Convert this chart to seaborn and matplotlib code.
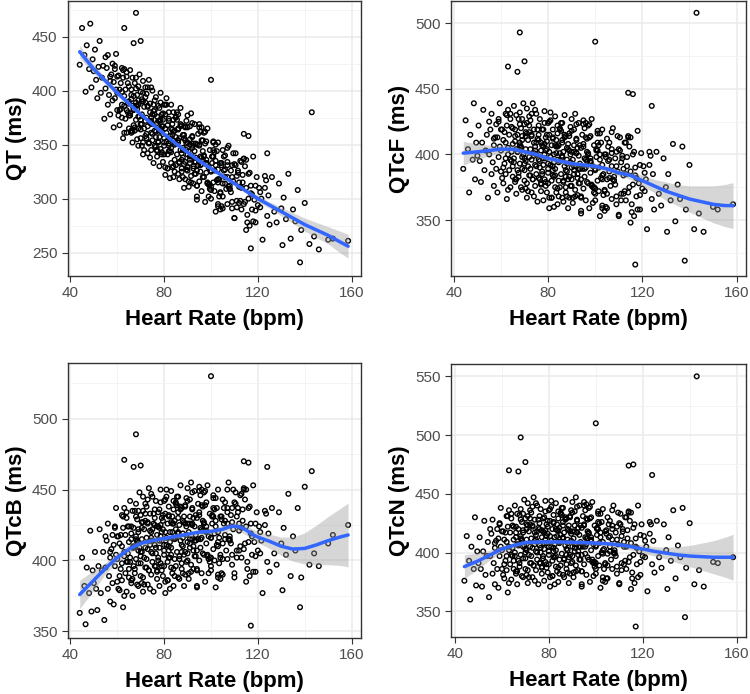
import matplotlib
matplotlib.use("Agg")
import matplotlib.pyplot as plt
import seaborn as sns
import pandas as pd
from matplotlib.ticker import MultipleLocator, FixedLocator

sns.set_theme(style="white")
plt.rcParams['font.family'] = ['Liberation Sans', 'DejaVu Sans']

# ---------------- scatter data (heart rate shared by all four panels) -------
hr = [
    44, 45, 46, 46.5, 47, 48, 48.5, 49, 49.5, 50,
    50.5, 51, 51.5, 52, 52.5, 53, 53.5, 54, 54.5, 55,
    55, 55.5, 56, 56, 56.5, 57, 57, 57.5, 58, 58,
    58.5, 58.5, 59, 59, 59.5, 59.5, 60, 60, 60.5, 60.5,
    61, 61, 61.5, 61.5, 62, 62, 62, 62.5, 62.5, 63,
    63, 63, 63.5, 63.5, 64, 64, 64, 64.5, 64.5, 65,
    65, 65, 65.5, 65.5, 66, 66, 66, 66.5, 66.5, 66.5,
    67, 67, 67, 67.5, 67.5, 68, 68, 68, 68.5, 68.5,
    68.5, 69, 69, 69, 69.5, 69.5, 70, 70, 70, 70.5,
    70.5, 70.5, 71, 71, 71, 71.5, 71.5, 72, 72, 72,
    72.5, 72.5, 72.5, 73, 73, 73, 73.5, 73.5, 74, 74,
    74, 74.5, 74.5, 74.5, 75, 75, 75, 75.5, 75.5, 76,
    76, 76, 76.5, 76.5, 76.5, 77, 77, 77, 77.5, 77.5,
    77.5, 78, 78, 78, 78.5, 78.5, 78.5, 79, 79, 79,
    79.5, 79.5, 79.5, 80, 80, 80, 80.5, 80.5, 80.5, 81,
    81, 81, 81.5, 81.5, 81.5, 82, 82, 82, 82.5, 82.5,
    82.5, 83, 83, 83, 83.5, 83.5, 83.5, 84, 84, 84,
    84.5, 84.5, 84.5, 85, 85, 85, 85.5, 85.5, 86, 86,
    86, 86.5, 86.5, 86.5, 87, 87, 87.5, 87.5, 87.5, 88,
    88, 88, 88.5, 88.5, 89, 89, 89, 89.5, 89.5, 90,
    90, 90, 90.5, 90.5, 91, 91, 91.5, 91.5, 92, 92,
    92, 92.5, 92.5, 93, 93, 93.5, 93.5, 94, 94, 94.5,
    94.5, 95, 95, 95.5, 95.5, 96, 96, 96.5, 96.5, 97,
    97, 97.5, 97.5, 98, 98, 98.5, 99, 99, 99.5, 100,
    100, 100.5, 100.5, 101, 101, 101.5, 102, 102, 102.5, 103,
    103, 103.5, 104, 104, 104.5, 105, 105, 105.5, 106, 106.5,
    107, 107, 107.5, 108, 108.5, 109, 109, 109.5, 110, 110.5,
    111, 111.5, 112, 112.5, 113, 113.5, 114, 114.5, 115, 115.5,
    116, 116.5, 117, 117.5, 118, 118.5, 119, 119.5, 120, 120.5,
    121, 121.5, 122, 123, 123.5, 124, 124.5, 125, 126, 127,
    128, 129, 130, 130.5, 131, 132, 133, 134, 135, 136,
    137, 138, 138.5, 140, 142, 144, 146, 150, 152, 158.5,
    143, 100, 68, 117, 70, 63, 67, 114, 116, 124,
    66, 67.5, 69, 70, 71.5, 73, 74, 75.5, 77, 78,
    79, 80.5, 82, 83, 84.5, 86, 87, 88.5, 90, 91,
    92.5, 94, 95.5, 97, 98.5, 100, 101.5, 103, 104.5, 106,
    65.5, 68, 70.5, 72, 74.5, 76, 78.5, 80, 82.5, 84,
    85.5, 87.5, 89.5, 91.5, 93.5, 95.5, 97.5, 99.5, 101.5, 103.5,
    69, 71, 73.5, 75, 77.5, 79.5, 81.5, 83.5, 85, 86.5,
    60, 62, 64, 66, 68, 70, 72, 74, 76, 78,
    80, 82, 84, 86, 88, 90, 92, 94, 96, 98,
    88.5, 90.5, 92, 93.5, 95, 96.5, 98, 99.5, 101, 102.5,
    104, 105.5, 107, 108.5, 110, 111.5, 113, 114.5, 116, 118,
    89, 91, 93, 95, 97, 99, 101, 103, 105, 107,
    108, 109.5, 111, 112, 113.5, 115, 116.5, 119, 121, 123,
    86, 87.5, 89.5, 91, 92.5, 94, 96, 98, 100, 102,
    103, 104.5, 106, 107.5, 109, 110.5, 112, 114, 115.5, 117.5,
    57, 59, 61, 63, 65, 67, 69, 71, 73, 75,
    77, 79, 81, 83, 85, 87, 89, 91, 93, 95,
    96.5, 98.5, 100.5, 102, 104, 106, 108, 110, 112.5, 115,
    62.5, 64.5, 66.5, 68.5, 70.5, 72.5, 74.5, 76.5, 78.5, 80.5,
    82, 84, 86, 88, 90, 92, 94, 96, 98, 100,
    101, 103, 105, 107, 109, 111, 113, 114, 117, 119,
]

qt = [
    424, 458, 433, 399, 442, 420, 462, 403, 429, 418,
    438, 410, 393, 422, 446, 398, 412, 423, 374, 431,
    402, 421, 387, 433, 396, 409, 378, 415, 425, 391,
    408, 366, 420, 393, 401, 434, 382, 398, 414, 377,
    368, 401, 407, 383, 421, 375, 399, 356, 412, 395,
    420, 386, 374, 401, 361, 413, 382, 407, 388, 377,
    390, 365, 419, 379, 396, 361, 401, 386, 352, 412,
    368, 395, 382, 407, 363, 389, 412, 373, 386, 355,
    396, 349, 387, 365, 415, 376, 356, 399, 373, 390,
    369, 378, 341, 390, 398, 365, 385, 358, 403, 372,
    360, 397, 375, 342, 386, 367, 410, 352, 380, 370,
    388, 361, 345, 375, 400, 354, 369, 381, 333, 391,
    363, 382, 348, 394, 357, 370, 339, 376, 386, 352,
    372, 330, 384, 357, 365, 398, 346, 362, 378, 341,
    334, 367, 373, 349, 387, 341, 365, 322, 378, 361,
    387, 353, 341, 368, 328, 380, 349, 374, 355, 344,
    358, 333, 387, 347, 364, 329, 369, 354, 320, 380,
    336, 363, 350, 375, 331, 357, 380, 341, 354, 323,
    365, 318, 356, 334, 384, 345, 325, 368, 342, 359,
    338, 347, 310, 359, 367, 334, 354, 327, 372, 341,
    329, 366, 344, 311, 355, 336, 379, 321, 349, 339,
    357, 330, 314, 344, 369, 323, 338, 350, 302, 360,
    331, 350, 316, 362, 325, 338, 307, 344, 354, 320,
    339, 297, 351, 324, 332, 365, 313, 329, 345, 308,
    300, 333, 339, 315, 353, 307, 331, 288, 344, 327,
    352, 318, 306, 333, 293, 345, 314, 339, 320, 309,
    320, 295, 349, 309, 326, 291, 331, 316, 282, 342,
    298, 324, 311, 335, 290, 315, 337, 297, 310, 278,
    323, 275, 312, 290, 339, 299, 278, 320, 294, 310,
    292, 300, 262, 310, 317, 284, 303, 276, 320, 288,
    278, 314, 291, 257, 301, 281, 323, 263, 290, 279,
    308, 241, 271, 296, 258, 265, 253, 262, 263, 261,
    380, 410, 472, 254, 446, 458, 444, 360, 358, 342,
    392, 366, 404, 369, 345, 385, 372, 387, 344, 372,
    343, 387, 351, 365, 325, 352, 369, 332, 377, 333,
    351, 312, 339, 361, 315, 326, 343, 293, 331, 314,
    377, 402, 349, 389, 372, 349, 389, 356, 319, 362,
    373, 336, 351, 315, 351, 331, 362, 313, 326, 302,
    376, 409, 351, 378, 353, 379, 328, 359, 376, 333,
    413, 387, 417, 363, 386, 364, 394, 338, 378, 363,
    352, 372, 330, 378, 345, 326, 347, 299, 354, 333,
    356, 316, 358, 334, 366, 320, 333, 309, 352, 317,
    305, 326, 347, 306, 282, 326, 310, 330, 300, 279,
    366, 339, 323, 369, 340, 302, 339, 315, 302, 334,
    312, 342, 292, 315, 322, 271, 324, 289, 306, 321,
    364, 328, 345, 367, 328, 312, 366, 336, 325, 335,
    295, 333, 340, 311, 320, 331, 296, 337, 285, 304,
    413, 423, 382, 361, 404, 383, 391, 352, 403, 360,
    345, 367, 393, 343, 351, 367, 318, 350, 334, 349,
    336, 314, 339, 350, 290, 327, 309, 332, 298, 336,
    419, 380, 362, 383, 392, 356, 403, 362, 373, 329,
    344, 373, 354, 320, 352, 370, 326, 332, 353, 311,
    345, 318, 291, 331, 297, 321, 334, 295, 305, 312,
]

qtcf = [
    389, 426, 404, 371, 415, 396, 439, 381, 409, 399,
    422, 395, 379, 409, 434, 388, 403, 415, 367, 425,
    400, 419, 385, 431, 394, 407, 376, 413, 423, 389,
    413, 371, 425, 398, 406, 439, 387, 403, 419, 382,
    378, 411, 417, 393, 431, 385, 409, 366, 422, 405,
    434, 400, 388, 415, 375, 427, 396, 421, 402, 391,
    408, 383, 437, 397, 414, 379, 419, 404, 370, 430,
    388, 415, 402, 427, 383, 409, 432, 393, 406, 375,
    420, 373, 411, 389, 439, 400, 380, 423, 397, 414,
    395, 404, 367, 416, 424, 391, 411, 384, 429, 398,
    389, 426, 404, 371, 415, 396, 439, 381, 409, 399,
    419, 392, 376, 406, 431, 385, 400, 412, 364, 422,
    396, 415, 381, 427, 390, 403, 372, 409, 419, 385,
    407, 365, 419, 392, 400, 433, 381, 397, 413, 376,
    371, 404, 410, 386, 424, 378, 402, 359, 415, 398,
    426, 392, 380, 407, 367, 419, 388, 413, 394, 383,
    400, 375, 429, 389, 406, 371, 411, 396, 362, 422,
    380, 407, 394, 419, 375, 401, 424, 385, 398, 367,
    411, 364, 402, 380, 430, 391, 371, 414, 388, 405,
    387, 396, 359, 408, 416, 383, 403, 376, 421, 390,
    381, 418, 396, 363, 407, 388, 431, 373, 401, 391,
    412, 385, 369, 399, 424, 378, 393, 405, 357, 415,
    389, 408, 374, 420, 383, 396, 365, 402, 412, 378,
    401, 359, 413, 386, 394, 427, 375, 391, 407, 370,
    365, 398, 404, 380, 418, 372, 396, 353, 409, 392,
    419, 385, 373, 400, 360, 412, 381, 406, 387, 376,
    391, 366, 420, 380, 397, 362, 402, 387, 353, 413,
    370, 397, 384, 409, 365, 391, 414, 375, 387, 356,
    400, 353, 390, 368, 418, 378, 358, 401, 374, 391,
    372, 381, 343, 392, 399, 366, 385, 358, 402, 370,
    361, 397, 375, 341, 385, 365, 408, 349, 377, 366,
    406, 319, 358, 392, 343, 355, 341, 360, 358, 362,
    508, 486, 493, 316, 471, 467, 463, 447, 446, 437,
    410, 386, 427, 393, 372, 414, 401, 419, 377, 406,
    379, 425, 391, 407, 368, 398, 415, 381, 427, 385,
    405, 368, 397, 422, 377, 389, 407, 359, 398, 382,
    394, 423, 374, 417, 403, 382, 424, 393, 360, 406,
    418, 383, 400, 368, 407, 389, 423, 375, 390, 369,
    398, 435, 381, 409, 387, 415, 367, 401, 420, 379,
    419, 397, 431, 381, 407, 388, 422, 368, 411, 397,
    389, 412, 374, 424, 393, 376, 401, 355, 413, 395,
    404, 367, 411, 389, 423, 379, 394, 371, 416, 382,
    372, 395, 417, 377, 354, 399, 385, 406, 377, 358,
    414, 391, 378, 426, 400, 363, 403, 381, 370, 404,
    383, 414, 365, 389, 398, 348, 402, 369, 386, 402,
    409, 375, 394, 419, 382, 367, 424, 397, 388, 400,
    361, 400, 409, 381, 391, 403, 370, 413, 362, 382,
    412, 427, 390, 373, 420, 402, 414, 378, 431, 391,
    378, 403, 432, 384, 395, 413, 367, 402, 389, 406,
    395, 376, 403, 416, 357, 396, 380, 404, 372, 413,
    430, 395, 381, 405, 417, 384, 434, 395, 408, 367,
    384, 416, 399, 368, 402, 423, 381, 390, 414, 374,
    409, 384, 359, 401, 368, 394, 409, 371, 384, 392,
]

qtcb = [
    363, 402, 382, 355, 395, 377, 421, 364, 393, 384,
    406, 380, 365, 396, 422, 377, 393, 406, 358, 417,
    395, 414, 380, 426, 389, 402, 371, 408, 418, 384,
    411, 369, 423, 396, 404, 437, 385, 401, 417, 380,
    379, 412, 418, 394, 432, 386, 410, 367, 423, 406,
    437, 403, 391, 418, 378, 430, 399, 424, 405, 394,
    413, 388, 442, 402, 419, 384, 424, 409, 375, 435,
    396, 423, 410, 435, 391, 417, 440, 401, 414, 383,
    429, 382, 420, 398, 448, 409, 389, 432, 406, 423,
    406, 415, 378, 427, 435, 402, 422, 395, 440, 409,
    401, 438, 416, 383, 427, 408, 451, 393, 421, 411,
    433, 406, 390, 420, 445, 399, 414, 426, 378, 436,
    411, 430, 396, 442, 405, 418, 387, 424, 434, 400,
    424, 382, 436, 409, 417, 450, 398, 414, 430, 393,
    389, 422, 428, 404, 442, 396, 420, 377, 433, 416,
    445, 411, 399, 426, 386, 438, 407, 432, 413, 402,
    420, 395, 449, 409, 426, 391, 431, 416, 382, 442,
    401, 428, 415, 440, 396, 422, 445, 406, 419, 388,
    434, 387, 425, 403, 453, 414, 394, 437, 411, 428,
    410, 419, 382, 431, 439, 406, 426, 399, 444, 413,
    405, 442, 420, 387, 431, 412, 455, 397, 425, 415,
    437, 410, 394, 424, 449, 403, 418, 430, 382, 440,
    415, 434, 400, 446, 409, 422, 391, 428, 438, 404,
    427, 385, 439, 412, 420, 453, 401, 417, 433, 396,
    393, 426, 432, 408, 446, 400, 424, 381, 437, 420,
    450, 416, 404, 431, 391, 443, 412, 437, 418, 407,
    426, 401, 455, 415, 432, 397, 437, 422, 388, 448,
    407, 434, 421, 446, 402, 428, 451, 412, 424, 394,
    437, 389, 426, 404, 453, 413, 392, 434, 407, 424,
    405, 414, 377, 425, 433, 399, 419, 392, 437, 405,
    397, 434, 412, 379, 423, 404, 447, 389, 417, 407,
    437, 367, 388, 452, 397, 405, 396, 412, 418, 425,
    463, 530, 489, 354, 467, 471, 466, 470, 469, 466,
    415, 394, 435, 403, 383, 426, 414, 433, 392, 423,
    396, 443, 410, 427, 389, 419, 438, 404, 451, 409,
    430, 394, 423, 448, 404, 416, 436, 388, 429, 415,
    399, 431, 384, 428, 416, 396, 441, 411, 380, 426,
    439, 406, 424, 392, 432, 415, 449, 402, 419, 398,
    407, 445, 393, 422, 402, 432, 386, 420, 441, 401,
    417, 398, 434, 386, 415, 398, 433, 380, 425, 414,
    407, 431, 394, 445, 416, 400, 426, 381, 439, 421,
    427, 391, 436, 414, 449, 405, 421, 399, 444, 411,
    402, 426, 450, 412, 391, 437, 423, 443, 413, 392,
    438, 415, 403, 452, 426, 391, 431, 410, 401, 437,
    417, 450, 402, 426, 436, 385, 438, 403, 420, 435,
    430, 398, 418, 443, 407, 393, 450, 424, 416, 428,
    390, 431, 441, 415, 427, 440, 407, 450, 399, 417,
    406, 424, 389, 375, 424, 409, 422, 388, 443, 405,
    393, 420, 450, 404, 416, 436, 390, 426, 414, 432,
    421, 403, 431, 444, 387, 428, 414, 441, 410, 450,
    431, 399, 387, 413, 427, 395, 447, 409, 425, 385,
    402, 436, 420, 391, 426, 448, 407, 416, 441, 402,
    437, 413, 390, 434, 404, 431, 447, 408, 419, 426,
]

qtcn = [
    376, 414, 393, 360, 405, 386, 430, 372, 401, 391,
    413, 386, 371, 401, 427, 381, 397, 409, 362, 420,
    397, 416, 382, 428, 391, 404, 373, 410, 420, 386,
    412, 370, 424, 397, 405, 438, 386, 402, 418, 381,
    378, 411, 417, 393, 431, 385, 409, 366, 422, 405,
    436, 402, 390, 417, 377, 429, 398, 423, 404, 393,
    411, 386, 440, 400, 417, 382, 422, 407, 373, 433,
    393, 420, 407, 432, 388, 414, 437, 398, 411, 380,
    426, 379, 417, 395, 445, 406, 386, 429, 403, 420,
    402, 411, 374, 423, 431, 398, 418, 391, 436, 405,
    397, 434, 412, 379, 423, 404, 447, 389, 417, 407,
    428, 401, 385, 415, 440, 394, 409, 421, 373, 431,
    406, 425, 391, 437, 400, 413, 382, 419, 429, 395,
    418, 376, 430, 403, 411, 444, 392, 408, 424, 387,
    383, 416, 422, 398, 436, 390, 414, 371, 427, 410,
    439, 405, 393, 420, 380, 432, 401, 426, 407, 396,
    413, 388, 442, 402, 419, 384, 424, 409, 375, 435,
    394, 421, 408, 433, 389, 415, 438, 399, 412, 381,
    426, 379, 417, 395, 445, 406, 386, 429, 403, 420,
    402, 411, 374, 423, 431, 398, 418, 391, 436, 405,
    397, 434, 412, 379, 423, 404, 447, 389, 417, 407,
    428, 401, 385, 415, 440, 394, 409, 421, 373, 431,
    405, 424, 390, 436, 399, 412, 381, 418, 428, 394,
    417, 375, 429, 402, 410, 443, 391, 407, 423, 386,
    382, 415, 421, 397, 435, 389, 413, 370, 426, 409,
    437, 403, 391, 418, 378, 430, 399, 424, 405, 394,
    411, 386, 440, 400, 417, 382, 422, 407, 373, 433,
    391, 418, 405, 430, 386, 412, 435, 396, 408, 378,
    421, 374, 412, 390, 440, 401, 381, 424, 397, 414,
    396, 405, 367, 416, 424, 390, 410, 383, 427, 396,
    387, 424, 402, 369, 413, 393, 436, 378, 406, 396,
    438, 345, 387, 425, 373, 385, 371, 392, 391, 396,
    550, 510, 498, 337, 477, 470, 469, 474, 475, 466,
    413, 391, 433, 400, 379, 422, 410, 428, 387, 417,
    390, 437, 404, 420, 382, 412, 430, 396, 443, 401,
    421, 384, 413, 438, 394, 406, 425, 376, 416, 401,
    397, 428, 381, 424, 411, 391, 435, 405, 373, 419,
    432, 398, 416, 384, 423, 405, 439, 392, 408, 386,
    405, 442, 389, 418, 397, 427, 380, 414, 434, 394,
    418, 397, 433, 384, 412, 395, 429, 376, 420, 408,
    401, 425, 387, 438, 408, 392, 417, 371, 429, 411,
    419, 383, 427, 405, 440, 396, 410, 388, 433, 400,
    390, 413, 436, 397, 374, 420, 405, 427, 398, 379,
    430, 407, 394, 443, 416, 380, 420, 399, 389, 423,
    402, 434, 385, 409, 419, 369, 424, 392, 410, 426,
    423, 390, 410, 435, 398, 384, 441, 413, 405, 417,
    379, 419, 427, 400, 411, 424, 390, 434, 383, 404,
    408, 425, 390, 374, 422, 406, 419, 385, 439, 400,
    388, 414, 444, 397, 409, 428, 382, 418, 405, 423,
    412, 392, 420, 433, 375, 414, 399, 425, 393, 434,
    431, 397, 384, 410, 424, 391, 442, 404, 419, 379,
    396, 429, 413, 383, 418, 439, 398, 407, 430, 391,
    426, 402, 378, 420, 388, 414, 430, 392, 405, 415,
]

# ---------------- loess fits ------------------------------------------------
fit_hr = [44, 50, 55, 60, 65, 70, 75, 80, 85, 90, 95, 100, 105, 107.5, 110,
          112.5, 115, 117.5, 120, 122.5, 125, 130, 135, 140, 145, 150, 155, 158.5]
qt_fit = [436, 420, 409, 398, 388, 378, 369, 360, 351, 343, 335, 328, 321, 317.5,
          314, 310.5, 307, 303.5, 300, 297, 294, 288, 282, 276, 271, 266, 260, 256]
qt_hw = [6, 4, 3, 3, 2, 2, 2, 2, 2, 2, 2, 2, 2, 2, 2, 2, 2, 2.5, 3, 3, 3, 4, 5,
         6, 7, 8, 10, 11]
qtcf_fit = [401, 402, 403, 404, 404, 402, 400, 397, 395, 393, 392, 391, 389, 387.5,
            386, 385, 384, 382, 380, 378, 376, 372, 369, 366, 364, 362, 361, 361]
qtcf_hw = [9, 6, 4, 3, 2.5, 2, 2, 2, 2, 2, 2, 2, 2, 2.2, 2.5, 2.7, 3, 3.5, 4,
           4.5, 5, 7, 8, 10, 12, 14, 16, 17.5]
qtcb_fit = [376, 386, 394.5, 402, 408, 412, 414, 415.5, 417, 418.5, 420, 420.5,
            422, 423.5, 424.3, 423.5, 421.5, 418.5, 416.5, 415, 413.5, 410, 408,
            408.5, 411, 414, 416.5, 418]
qtcb_hw = [10, 7, 4, 3.5, 3, 2.5, 2.5, 2, 2, 2, 2, 2, 2.5, 2.7, 3, 3.2, 3.5, 3.8,
           4, 4.5, 5, 6.5, 8.5, 11, 14, 17, 20, 22.5]
qtcn_fit = [388, 393, 398, 403, 406, 408.5, 409, 409, 409, 408.7, 408.5, 408,
            407.5, 407, 406.5, 405.8, 405, 404, 403, 402, 401, 399.5, 398, 397,
            396.5, 396, 396, 396]
qtcn_hw = [10, 7, 4, 3, 2.5, 2, 2, 2, 2, 2, 2, 2, 2, 2.2, 2.5, 2.7, 3, 3.2, 3.5,
           3.8, 4, 5, 7, 9, 11.5, 14, 17, 19.5]

y_labels = ["QT (ms)", "QTcF (ms)", "QTcB (ms)", "QTcN (ms)"]
x_ticks = [40, 80, 120, 160]
y_ticks = [[250, 300, 350, 400, 450], [350, 400, 450, 500],
           [350, 400, 450, 500], [350, 400, 450, 500, 550]]

# ---------------- figure ----------------------------------------------------
fig = plt.figure(figsize=(7.5, 6.94), dpi=100)
W, H = 750, 694
boxes = [(68, 1, 361, 276), (451, 1, 746, 276), (68, 363, 361, 638), (451, 364, 746, 637)]
xlims = [(39.0, 164.0), (38.8, 164.0), (39.0, 164.0), (38.3, 164.0)]
ylims = [(228.4, 483.0), (307.3, 517.0), (345.3, 539.3), (328.1, 560.5)]

series = [qt, qtcf, qtcb, qtcn]
fits = [(qt_fit, qt_hw), (qtcf_fit, qtcf_hw), (qtcb_fit, qtcb_hw), (qtcn_fit, qtcn_hw)]

for i in range(4):
    l, t, r, b = boxes[i]
    ax = fig.add_axes([l / W, 1 - b / H, (r - l) / W, (b - t) / H])
    vals = series[i]
    n = min(len(hr), len(vals))
    df = pd.DataFrame({"hr": hr[:n], "v": vals[:n]})
    sns.scatterplot(data=df, x="hr", y="v", ax=ax, marker="o", s=11,
                    facecolor="none", edgecolor="black", linewidth=1.0, zorder=3)
    f, hw = fits[i]
    lo = [a - h for a, h in zip(f, hw)]
    hi = [a + h for a, h in zip(f, hw)]
    ax.fill_between(fit_hr, lo, hi, color="#999999", alpha=0.4, linewidth=0, zorder=4)
    sns.lineplot(x=fit_hr, y=f, ax=ax, color="#3366FF", linewidth=2.5,
                 estimator=None, zorder=5)

    ax.set_xlim(*xlims[i])
    ax.set_ylim(*ylims[i])
    ax.xaxis.set_major_locator(FixedLocator(x_ticks))
    ax.xaxis.set_minor_locator(MultipleLocator(20))
    ax.yaxis.set_major_locator(FixedLocator(y_ticks[i]))
    ax.yaxis.set_minor_locator(MultipleLocator(25))
    ax.grid(True, which="major", color="#EBEBEB", linewidth=1.1, zorder=0)
    ax.grid(True, which="minor", color="#F2F2F2", linewidth=0.6, zorder=0)
    ax.set_axisbelow(True)
    for sp in ax.spines.values():
        sp.set_visible(True)
        sp.set_color("#333333")
        sp.set_linewidth(1.0)
    ax.tick_params(which="major", direction="out", length=4, width=0.8,
                   color="#333333", labelsize=11, labelcolor="#4D4D4D", pad=3.5,
                   bottom=True, left=True)
    ax.tick_params(which="minor", length=0)
    ax.set_xlabel("Heart Rate (bpm)", fontsize=16, fontweight="bold",
                  color="black", labelpad=6)
    ax.set_ylabel(y_labels[i], fontsize=16, fontweight="bold", color="black",
                  labelpad=4)
    ax.set_facecolor("white")

fig.savefig("out.png", dpi=100, facecolor="white")
